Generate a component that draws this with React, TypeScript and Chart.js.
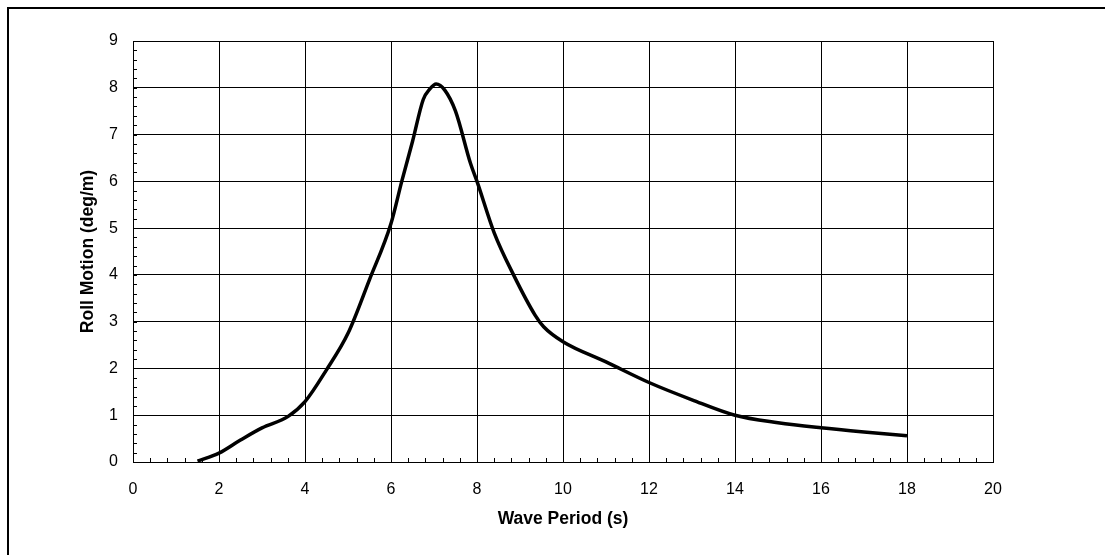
import React, { useEffect, useRef } from "react";
import { Chart, registerables } from "chart.js";

Chart.register(...registerables);

const periods = [1.5, 2, 2.5, 3, 3.6, 4, 4.5, 5, 5.5, 6, 6.25, 6.5, 6.75, 6.9, 7.05, 7.25, 7.5, 7.85, 8, 8.4, 8.85, 9.35, 9.55, 10, 11, 12, 13, 14, 15, 16, 17, 18];
const rollMotion = [0.02, 0.19, 0.47, 0.73, 0.97, 1.29, 1.97, 2.75, 3.9, 5.1, 6.0, 6.85, 7.75, 7.97, 8.08, 7.95, 7.5, 6.38, 6.0, 4.9, 4.0, 3.14, 2.89, 2.57, 2.14, 1.7, 1.33, 1.0, 0.84, 0.73, 0.64, 0.56];

const xTitle = "Wave Period (s)";
const yTitle = "Roll Motion (deg/m)";
const xMin = 0, xMax = 20, xStep = 2, xMinor = 0.4;
const yMin = 0, yMax = 9, yStep = 1, yMinor = 0.2;

const FONT = "Arial, 'Liberation Sans', sans-serif";

const minorTicks = {
  id: "minorTicks",
  afterDatasetsDraw(chart: any) {
    const { ctx, chartArea, scales } = chart;
    const xs = scales.x, ys = scales.y;
    ctx.save();
    ctx.strokeStyle = "#000";
    ctx.lineWidth = 1;
    ctx.beginPath();
    const nX = Math.round((xMax - xMin) / xMinor);
    for (let i = 1; i < nX; i++) {
      const v = xMin + i * xMinor;
      const px = Math.round(xs.getPixelForValue(v)) + 0.5;
      ctx.moveTo(px, chartArea.bottom);
      ctx.lineTo(px, chartArea.bottom - 4);
    }
    const nY = Math.round((yMax - yMin) / yMinor);
    for (let i = 1; i < nY; i++) {
      const v = yMin + i * yMinor;
      const py = Math.round(ys.getPixelForValue(v)) + 0.5;
      ctx.moveTo(chartArea.left, py);
      ctx.lineTo(chartArea.left + 4, py);
    }
    ctx.stroke();
    ctx.restore();
  },
};

export default function App() {
  const ref = useRef<HTMLCanvasElement | null>(null);
  useEffect(() => {
    if (!ref.current) return;
    const chart = new Chart(ref.current, {
      type: "line",
      data: {
        datasets: [
          {
            data: periods.map((p, i) => ({ x: p, y: rollMotion[i] })),
            borderColor: "#000",
            borderWidth: 3.5,
            pointRadius: 0,
            fill: false,
            cubicInterpolationMode: "monotone",
          },
        ],
      },
      options: {
        animation: false,
        responsive: false,
        maintainAspectRatio: false,
        layout: { padding: { left: 0, right: 112, top: 41, bottom: 0 } },
        plugins: { legend: { display: false }, tooltip: { enabled: false } },
        scales: {
          x: {
            type: "linear",
            min: xMin,
            max: xMax,
            afterFit: (s: any) => { s.height = 93; },
            ticks: {
              stepSize: xStep,
              color: "#000",
              padding: 18,
              font: { family: FONT, size: 16 },
              maxRotation: 0,
            },
            grid: { color: "#000", lineWidth: 1, drawTicks: false, tickLength: 0 },
            border: { color: "#000", width: 1 },
            title: {
              display: true,
              text: xTitle,
              color: "#000",
              font: { family: FONT, size: 17.5, weight: "bold" },
              padding: { top: 0, bottom: 25.5 },
            },
          },
          y: {
            type: "linear",
            min: yMin,
            max: yMax,
            afterFit: (s: any) => { s.width = 133; },
            ticks: {
              stepSize: yStep,
              color: "#000",
              padding: 15,
              font: { family: FONT, size: 16 },
            },
            grid: { color: "#000", lineWidth: 1, drawTicks: false, tickLength: 0 },
            border: { color: "#000", width: 1 },
            title: {
              display: true,
              text: yTitle,
              color: "#000",
              font: { family: FONT, size: 17.5, weight: "bold" },
              padding: { top: 78, bottom: 0 },
            },
          },
        },
      },
      plugins: [minorTicks],
    });
    return () => chart.destroy();
  }, []);

  return (
    <div style={{ position: "absolute", left: 0, top: 0, width: 1105, height: 555, background: "#fff" }}>
      <canvas ref={ref} width={1105} height={555} style={{ position: "absolute", left: 0, top: 0, width: 1105, height: 555 }} />
      <div
        style={{
          position: "absolute",
          left: 7,
          top: 7,
          width: 1098,
          height: 548,
          borderLeft: "2px solid #000",
          borderTop: "2px solid #000",
          boxSizing: "border-box",
          pointerEvents: "none",
        }}
      />
    </div>
  );
}
